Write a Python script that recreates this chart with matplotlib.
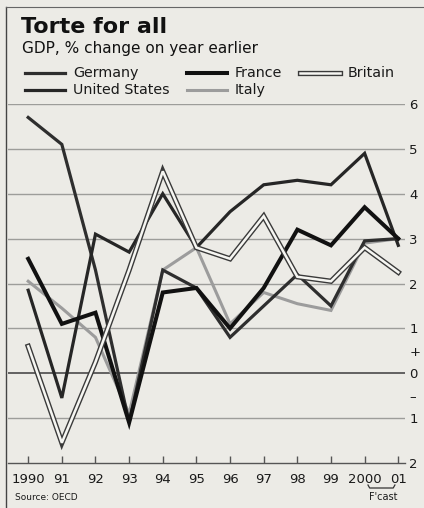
"""Torte for all: GDP growth, five big economies, 1990-2001."""
import matplotlib
matplotlib.use("Agg")
import matplotlib.pyplot as plt
from matplotlib.lines import Line2D
import matplotlib.transforms as mtransforms

years = list(range(1990, 2002))
year_labels = ["1990", "91", "92", "93", "94", "95", "96", "97", "98", "99", "2000", "01"]

germany = [5.7, 5.1, 2.3, -1.1, 2.3, 1.9, 0.8, 1.5, 2.2, 1.5, 2.95, 3.0]
united_states = [1.85, -0.55, 3.1, 2.7, 4.0, 2.8, 3.6, 4.2, 4.3, 4.2, 4.9, 2.85]
france = [2.55, 1.1, 1.35, -1.1, 1.8, 1.9, 1.0, 1.9, 3.2, 2.85, 3.7, 3.0]
britain = [0.6, -1.55, 0.25, 2.3, 4.5, 2.8, 2.55, 3.5, 2.15, 2.05, 2.8, 2.25]
italy = [2.05, 1.45, 0.8, -0.9, 2.3, 2.8, 1.1, 1.8, 1.55, 1.4, 2.9, 3.0]

y_ticks = [6, 5, 4, 3, 2, 1, 0.5, 0, -0.5, -1, -2]
y_tick_labels = ["6", "5", "4", "3", "2", "1", "+", "0", "\u2013", "1", "2"]

BG = "#ecebe6"
plt.rcParams["font.family"] = "DejaVu Sans"

W, H = 424, 508
fig = plt.figure(figsize=(W / 100, H / 100), dpi=100, facecolor=BG)
ax = fig.add_axes([8 / W, 1 - 463 / H, 397 / W, (463 - 104) / H])
ax.set_facecolor(BG)
ax.set_xlim(1989.4, 2001.2)
ax.set_ylim(-2, 6)

# horizontal rules
for v in [6, 5, 4, 3, 2, 1, -1]:
    ax.axhline(v, color="#9d9d9a", lw=1.0, zorder=1)
ax.axhline(0, color="#4a4a4a", lw=1.2, zorder=1)

# series
ax.plot(years, italy, color="#9c9c9c", lw=2.2, zorder=3, solid_joinstyle="miter")
ax.plot(years, germany, color="#2e2e2e", lw=2.3, zorder=4, solid_joinstyle="miter")
ax.plot(years, united_states, color="#262626", lw=2.3, zorder=4, solid_joinstyle="miter")
ax.plot(years, france, color="#111111", lw=2.9, zorder=5, solid_joinstyle="miter")
ax.plot(years, britain, color="#3a3a3a", lw=3.8, zorder=6, solid_joinstyle="miter")
ax.plot(years, britain, color="#f6f6f2", lw=1.8, zorder=7, solid_joinstyle="miter")

# axes cosmetics
for s in ["top", "left", "right"]:
    ax.spines[s].set_visible(False)
ax.spines["bottom"].set_color("#555555")
ax.spines["bottom"].set_linewidth(1.0)
ax.set_xticks(years)
ax.set_xticklabels(year_labels, fontsize=9.5, color="#1a1a1a")
ax.tick_params(axis="x", direction="in", length=5, width=1, color="#555555", pad=7)
ax.yaxis.tick_right()
ax.set_yticks(y_ticks)
ax.set_yticklabels(y_tick_labels, fontsize=9.5, color="#1a1a1a")
ax.tick_params(axis="y", length=0, pad=3)

# forecast bracket under 2000-01
trans = mtransforms.blended_transform_factory(ax.transData, fig.transFigure)
yb = 1 - 488 / H
yt = 1 - 485 / H
ax.plot([2000.1, 2000.15, 2000.85, 2000.9], [yt, yb, yb, yt], transform=trans,
        color="#333333", lw=0.9, clip_on=False)
fig.text(383 / W, 1 - 497 / H, "F'cast", fontsize=7, ha="center", va="center",
         color="#1a1a1a")
fig.text(15 / W, 1 - 497 / H, "Source: OECD", fontsize=6.5, ha="left", va="center",
         color="#1a1a1a")

# titles
fig.text(21 / W, 1 - 33 / H, "Torte for all", fontsize=16, fontweight="bold",
         ha="left", va="baseline", color="#111111")
fig.text(22 / W, 1 - 53 / H, "GDP, % change on year earlier", fontsize=11,
         ha="left", va="baseline", color="#111111")

# hand-built legend
legend_items = [
    ("Germany", 25, 73, dict(color="#2e2e2e", lw=2.3)),
    ("France", 187, 73, dict(color="#111111", lw=2.9)),
    ("Britain", 300, 73, None),
    ("United States", 25, 90, dict(color="#262626", lw=2.3)),
    ("Italy", 187, 90, dict(color="#9c9c9c", lw=2.2)),
]
for name, x0, yy, style in legend_items:
    xs = [x0 / W, (x0 + 40) / W]
    ys = [1 - yy / H] * 2
    if style is None:
        fig.add_artist(Line2D(xs, ys, color="#3a3a3a", lw=3.8, transform=fig.transFigure))
        fig.add_artist(Line2D(xs, ys, color="#f6f6f2", lw=1.8, transform=fig.transFigure))
    else:
        fig.add_artist(Line2D(xs, ys, transform=fig.transFigure, **style))
    fig.text((x0 + 48) / W, 1 - yy / H, name, fontsize=10.3, ha="left", va="center",
             color="#1a1a1a")

# frame: left and top rules
fig.add_artist(Line2D([6 / W, 6 / W], [0, 1 - 7 / H], color="#444444", lw=1.0,
                      transform=fig.transFigure))
fig.add_artist(Line2D([6 / W, 1], [1 - 7 / H, 1 - 7 / H], color="#666666", lw=0.8,
                      transform=fig.transFigure))

fig.savefig("out.png", dpi=100, facecolor=BG)
